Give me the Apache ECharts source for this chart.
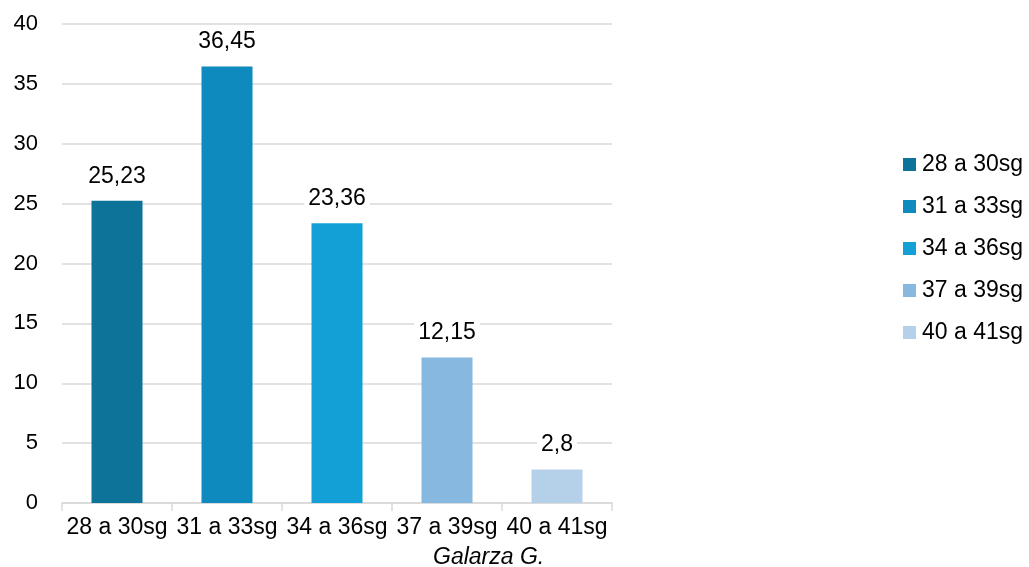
<!DOCTYPE html>
<html>
<head>
<meta charset="utf-8">
<script src="https://cdn.jsdelivr.net/npm/echarts@6/dist/echarts.min.js"></script>
<style>
html, body { margin: 0; padding: 0; background: #fff; }
#chart { width: 1029px; height: 567px; }
</style>
</head>
<body>
<div id="chart"></div>
<script>
// Gestational age groups and their percentages
const categories = ['28 a 30sg', '31 a 33sg', '34 a 36sg', '37 a 39sg', '40 a 41sg'];
const values = [25.23, 36.45, 23.36, 12.15, 2.8];
const colors = ['#0D7399', '#0E8ABE', '#12A0D6', '#86B8E0', '#B5D1EA'];
const yTicks = { min: 0, max: 40, interval: 5 };
const sourceNote = 'Galarza G.';

const fontFamily = '"Liberation Sans", Arial, sans-serif';
const fontSize = 23;

// One series per group so each gets its own legend entry and colour;
// stacking keeps every bar centred in its own category slot.
const series = categories.map((name, i) => ({
  name: name,
  type: 'bar',
  stack: 'all',
  barWidth: i === categories.length - 1 ? 56 : 51,
  itemStyle: { color: colors[i] },
  data: categories.map((_, j) => (j === i ? values[i] : '-')),
  label: {
    show: true,
    position: 'top',
    distance: 11,
    color: '#000',
    fontSize: fontSize,
    fontFamily: fontFamily,
    backgroundColor: '#fff',
    padding: [2, 4],
    formatter: p => String(p.value).replace('.', ',')
  }
}));

const chart = echarts.init(document.getElementById('chart'), null, { renderer: 'canvas' });
chart.setOption({
  animation: false,
  backgroundColor: '#fff',
  grid: { left: 62, right: 417, top: 24, bottom: 64, containLabel: false },
  legend: {
    orient: 'vertical',
    left: 898,
    top: 148,
    itemWidth: 13,
    itemHeight: 13,
    itemGap: 19,
    icon: 'rect',
    textStyle: { color: '#000', fontSize: fontSize, fontFamily: fontFamily, padding: [0, 0, 0, 1] },
    data: categories
  },
  xAxis: {
    type: 'category',
    data: categories,
    axisLine: { lineStyle: { color: '#d9d9d9', width: 1.5 } },
    axisTick: { show: true, alignWithLabel: false, length: 8, lineStyle: { color: '#d9d9d9', width: 1.5 } },
    axisLabel: { color: '#000', fontSize: fontSize, fontFamily: fontFamily, margin: 13, interval: 0 }
  },
  yAxis: {
    type: 'value',
    min: yTicks.min,
    max: yTicks.max,
    interval: yTicks.interval,
    axisLine: { show: false },
    axisTick: { show: false },
    splitLine: { lineStyle: { color: '#d9d9d9', width: 1.5 } },
    axisLabel: { color: '#000', fontSize: 22, fontFamily: fontFamily, margin: 24 }
  },
  graphic: [{
    type: 'text',
    left: 433,
    top: 546,
    style: {
      text: sourceNote,
      fill: '#000',
      font: 'italic ' + fontSize + 'px ' + fontFamily
    }
  }],
  series: series
});
</script>
</body>
</html>
